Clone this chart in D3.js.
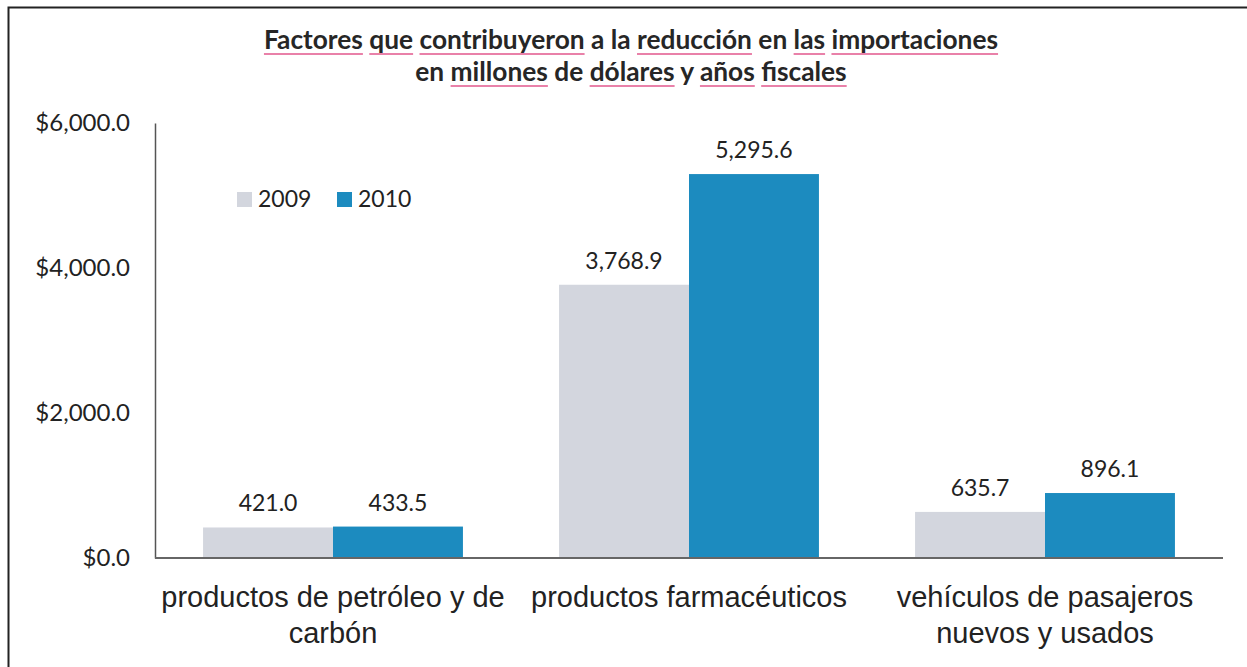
<!DOCTYPE html>
<html>
<head>
<meta charset="utf-8">
<script src="https://cdn.jsdelivr.net/npm/d3@7"></script>
<style>
  body { margin: 0; background: #fff; }
  .titulo { font-family: Lato, "Open Sans", sans-serif; font-weight: bold; font-size: 26.3px; fill: #262626; }
  .y-os text { font-family: Lato, sans-serif; font-size: 24px; fill: #222; }
  .oznaka { font-family: Lato, sans-serif; font-size: 23px; fill: #222; text-anchor: middle; }
  .legenda text { font-family: Lato, sans-serif; font-size: 23px; fill: #222; }
  .kategorija { font-family: "Liberation Sans", Arial, sans-serif; font-size: 29px; fill: #222; text-anchor: middle; }
</style>
</head>
<body>
<div id="okvir"></div>
<script>
// podaci
const kategorije = [
  ["productos de petróleo y de", "carbón"],
  ["productos farmacéuticos"],
  ["vehículos de pasajeros", "nuevos y usados"]
]
const godine = ["2009", "2010"]
const vrijednosti2009 = [421.0, 3768.9, 635.7]
const vrijednosti2010 = [433.5, 5295.6, 896.1]
const yTicks = [0, 2000, 4000, 6000]
const naslovRedovi = [
  [["Factores", 1], [" ", 0], ["que", 1], [" ", 0], ["contribuyeron", 1], [" a la ", 0], ["reducción", 1], [" en ", 0], ["las", 1], [" ", 0], ["importaciones", 1]],
  [["en ", 0], ["millones", 1], [" de ", 0], ["dólares", 1], [" y ", 0], ["años", 1], [" ", 0], ["fiscales", 1]]
]

const boje = ["#d3d6de", "#1c8bbf"]

const sirina = 1247, visina = 667
const margine = { top: 123, right: 24, bottom: 109, left: 155 }

const okvir = d3.select("#okvir").append("svg")
  .attr("width", sirina)
  .attr("height", visina)

// okvir slike
okvir.append("rect")
  .attr("x", 8.5).attr("y", 7.5)
  .attr("width", 1260).attr("height", 700)
  .attr("fill", "none").attr("stroke", "#222").attr("stroke-width", 2)

// naslov s podcrtanim rijecima
naslovRedovi.forEach((red, i) => {
  const yRed = 49 + i * 32
  const t = okvir.append("text")
    .attr("class", "titulo")
    .attr("x", 631)
    .attr("y", yRed)
    .attr("text-anchor", "middle")
  const dijelovi = red.map(d => t.append("tspan").text(d[0]).attr("xml:space", "preserve"))
  dijelovi.forEach((sp, j) => {
    if (!red[j][1]) return
    const n = sp.node()
    const x0 = n.getStartPositionOfChar(0).x
    const x1 = x0 + n.getComputedTextLength()
    okvir.append("line")
      .attr("x1", x0).attr("x2", x1)
      .attr("y1", yRed + 5).attr("y2", yRed + 5)
      .attr("stroke", "#e2578c").attr("stroke-width", 1.3)
  })
})

const granice = okvir.append("g")
const grSirina = sirina - margine.left - margine.right
const dno = visina - margine.bottom

// skale
const xSkala = d3.scaleBand()
  .domain(d3.range(kategorije.length))
  .range([margine.left, margine.left + grSirina])
  .paddingInner(0.27)
  .paddingOuter(0.135)

const xPod = d3.scaleBand()
  .domain(godine)
  .range([0, xSkala.bandwidth()])

const ySkala = d3.scaleLinear()
  .domain([0, 6000])
  .range([dno, margine.top])

const nizovi = [vrijednosti2009, vrijednosti2010]

// stupci
godine.forEach((g, gi) => {
  granice.selectAll(".stupac-" + g)
    .data(nizovi[gi])
    .join("rect")
      .attr("x", (d, i) => xSkala(i) + xPod(g))
      .attr("y", d => ySkala(d))
      .attr("width", xPod.bandwidth())
      .attr("height", d => ySkala(0) - ySkala(d))
      .attr("fill", boje[gi])

  granice.selectAll(".oznaka-" + g)
    .data(nizovi[gi])
    .join("text")
      .attr("class", "oznaka")
      .attr("x", (d, i) => xSkala(i) + xPod(g) + xPod.bandwidth() / 2)
      .attr("y", d => ySkala(d) - 16)
      .text(d => d3.format(",.1f")(d))
})

// y os
const yOs = granice.append("g")
  .attr("class", "y-os")
  .attr("transform", `translate(${margine.left},0)`)
  .call(d3.axisLeft(ySkala).tickValues(yTicks).tickSize(0).tickPadding(25)
    .tickFormat(d => "$" + d3.format(",.1f")(d)))
yOs.select(".domain").attr("stroke", "#555").attr("stroke-width", 1.5)

// x os
granice.append("line")
  .attr("x1", margine.left).attr("x2", margine.left + grSirina)
  .attr("y1", dno).attr("y2", dno)
  .attr("stroke", "#666").attr("stroke-width", 2)

kategorije.forEach((redovi, i) => {
  const t = granice.append("text")
    .attr("class", "kategorija")
    .attr("x", xSkala(i) + xSkala.bandwidth() / 2)
    .attr("y", dno + 49)
  redovi.forEach((r, j) => {
    t.append("tspan")
      .attr("x", xSkala(i) + xSkala.bandwidth() / 2)
      .attr("dy", j === 0 ? 0 : 36)
      .text(r)
  })
})

// legenda
const legenda = okvir.append("g").attr("class", "legenda")
const legX = [237, 337]
godine.forEach((g, gi) => {
  legenda.append("rect")
    .attr("x", legX[gi]).attr("y", 192)
    .attr("width", 15).attr("height", 15)
    .attr("fill", boje[gi])
  legenda.append("text")
    .attr("x", legX[gi] + 21).attr("y", 207)
    .text(g)
})
</script>
</body>
</html>
